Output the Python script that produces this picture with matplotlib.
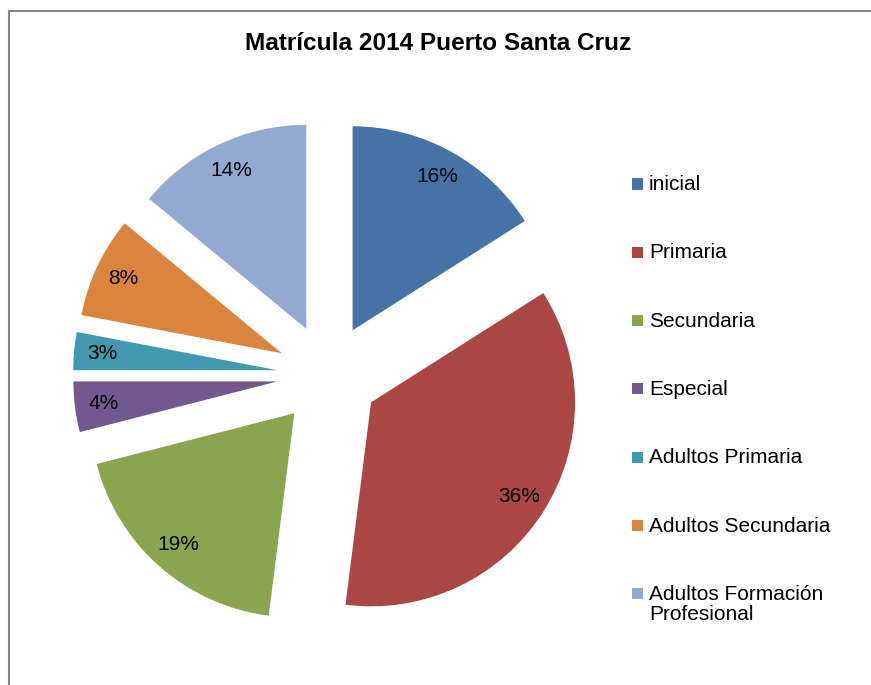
import matplotlib.pyplot as plt
from matplotlib.patches import Rectangle
from matplotlib.lines import Line2D

plt.rcParams['font.family'] = ['Liberation Sans', 'DejaVu Sans']

# datos
categorias = ['inicial', 'Primaria', 'Secundaria', 'Especial',
              'Adultos Primaria', 'Adultos Secundaria',
              'Adultos Formación\nProfesional']
porcentajes = [16, 36, 19, 4, 3, 8, 14]
colores = ['#4572A7', '#AA4643', '#89A54E', '#71588F',
           '#4198AF', '#DB843D', '#93A9CF']

W, H = 871, 685
fig = plt.figure(figsize=(W / 100, H / 100), dpi=100)

# marco del gráfico (solo arriba e izquierda visibles)
fig.add_artist(Line2D([8.5 / W, 8.5 / W], [0, 1 - 10.5 / H], transform=fig.transFigure,
                      color='#868686', lw=1.5))
fig.add_artist(Line2D([8.5 / W, 1], [1 - 10.5 / H, 1 - 10.5 / H], transform=fig.transFigure,
                      color='#868686', lw=1.5))

# ejes: centro del pastel en (328, 375) px, radio 204 px
cx, cy, r = 328, 375, 204
half = 300
ax = fig.add_axes([(cx - half) / W, (H - cy - half) / H, 2 * half / W, 2 * half / H])

wedges, textos, autotextos = ax.pie(
    porcentajes, colors=colores, startangle=90, counterclock=False,
    explode=[0.25] * len(porcentajes), radius=1, pctdistance=0.86,
    autopct='%1.0f%%', wedgeprops=dict(linewidth=0),
    textprops=dict(fontsize=15, color='black'))
ax.set_xlim(-half / r, half / r)
ax.set_ylim(-half / r, half / r)
ax.axis('off')

fig.text(438 / W, 1 - 43 / H, 'Matrícula 2014 Puerto Santa Cruz',
         ha='center', va='center', fontsize=17.6, fontweight='bold')

# leyenda
y0, paso = 184, 68.3
for i, (cat, col) in enumerate(zip(categorias, colores)):
    y = y0 + i * paso
    fig.add_artist(Rectangle((632 / W, 1 - (y + 5.5) / H), 11 / W, 11 / H,
                             transform=fig.transFigure, color=col, lw=0))
    fig.text(649 / W, 1 - (y - 9) / H, cat, ha='left', va='top',
             fontsize=15, linespacing=1.1)

fig.savefig('out.png', dpi=100)
